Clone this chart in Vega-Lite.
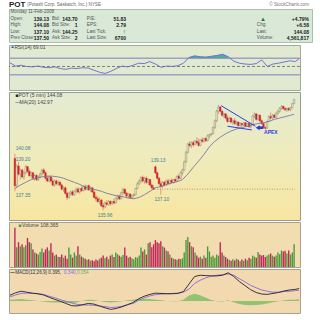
{
"$schema":"https://vega.github.io/schema/vega-lite/v6.json",
"padding":{"left":7,"top":0,"right":0,"bottom":0},
"background":"white",
"spacing":0,
"config":{"font":"Liberation Sans","text":{"font":"Liberation Sans"},"view":{"stroke":"#9c9c8c"}},
"datasets":{
"bars":[
{"i":0,"o":139.75,"h":140.08,"l":137.35,"c":137.75,"v":190000},
{"i":1,"o":137.8,"h":139.3,"l":137.6,"c":139.2,"v":95000},
{"i":2,"o":139.2,"h":139.5,"l":138.5,"c":138.6,"v":120000},
{"i":3,"o":138.6,"h":139.0,"l":138.2,"c":138.9,"v":100000},
{"i":4,"o":138.9,"h":139.0,"l":138.3,"c":138.4,"v":110000},
{"i":5,"o":138.4,"h":138.8,"l":138.2,"c":138.7,"v":95000},
{"i":6,"o":138.7,"h":139.25,"l":138.6,"c":139.15,"v":105000},
{"i":7,"o":139.15,"h":139.2,"l":138.7,"c":138.8,"v":140000},
{"i":8,"o":138.8,"h":139.0,"l":138.4,"c":138.5,"v":120000},
{"i":9,"o":138.5,"h":138.8,"l":138.3,"c":138.7,"v":115000},
{"i":10,"o":138.7,"h":138.75,"l":138.2,"c":138.3,"v":85000},
{"i":11,"o":138.3,"h":138.6,"l":138.1,"c":138.5,"v":70000},
{"i":12,"o":138.5,"h":138.6,"l":138.1,"c":138.2,"v":65000},
{"i":13,"o":138.2,"h":138.5,"l":138.1,"c":138.4,"v":60000},
{"i":14,"o":138.4,"h":138.7,"l":138.3,"c":138.6,"v":72000},
{"i":15,"o":138.6,"h":139.0,"l":138.5,"c":138.9,"v":90000},
{"i":16,"o":138.9,"h":139.05,"l":138.6,"c":138.7,"v":70000},
{"i":17,"o":138.7,"h":138.8,"l":138.2,"c":138.3,"v":85000},
{"i":18,"o":138.3,"h":138.5,"l":138.0,"c":138.1,"v":95000},
{"i":19,"o":138.1,"h":138.5,"l":138.0,"c":138.4,"v":80000},
{"i":20,"o":138.4,"h":138.5,"l":138.0,"c":138.1,"v":115000},
{"i":21,"o":138.1,"h":138.3,"l":137.7,"c":137.8,"v":70000},
{"i":22,"o":137.8,"h":138.2,"l":137.7,"c":138.1,"v":55000},
{"i":23,"o":138.1,"h":138.2,"l":137.8,"c":137.9,"v":60000},
{"i":24,"o":137.9,"h":138.15,"l":137.75,"c":138.0,"v":50000},
{"i":25,"o":138.0,"h":138.1,"l":137.7,"c":137.8,"v":48000},
{"i":26,"o":137.8,"h":137.9,"l":137.4,"c":137.5,"v":60000},
{"i":27,"o":137.5,"h":137.7,"l":137.3,"c":137.6,"v":45000},
{"i":28,"o":137.6,"h":137.7,"l":137.1,"c":137.2,"v":55000},
{"i":29,"o":137.2,"h":137.3,"l":136.7,"c":136.9,"v":40000},
{"i":30,"o":136.9,"h":137.3,"l":136.8,"c":137.2,"v":94000},
{"i":31,"o":137.2,"h":137.4,"l":137.0,"c":137.3,"v":60000},
{"i":32,"o":137.3,"h":137.45,"l":137.0,"c":137.1,"v":45000},
{"i":33,"o":137.1,"h":137.4,"l":137.0,"c":137.35,"v":70000},
{"i":34,"o":137.35,"h":137.6,"l":137.2,"c":137.5,"v":55000},
{"i":35,"o":137.5,"h":137.65,"l":137.2,"c":137.3,"v":100000},
{"i":36,"o":137.3,"h":137.6,"l":137.15,"c":137.55,"v":60000},
{"i":37,"o":137.55,"h":137.7,"l":137.3,"c":137.4,"v":50000},
{"i":38,"o":137.4,"h":137.8,"l":137.35,"c":137.7,"v":45000},
{"i":39,"o":137.7,"h":137.85,"l":137.4,"c":137.5,"v":40000},
{"i":40,"o":137.5,"h":137.8,"l":137.4,"c":137.75,"v":35000},
{"i":41,"o":137.75,"h":137.85,"l":137.4,"c":137.45,"v":38000},
{"i":42,"o":137.45,"h":137.7,"l":137.3,"c":137.6,"v":30000},
{"i":43,"o":137.6,"h":137.65,"l":137.2,"c":137.3,"v":33000},
{"i":44,"o":137.3,"h":137.4,"l":136.85,"c":136.9,"v":28000},
{"i":45,"o":136.9,"h":137.1,"l":136.6,"c":136.8,"v":36000},
{"i":46,"o":136.8,"h":137.0,"l":136.5,"c":136.6,"v":32000},
{"i":47,"o":136.6,"h":136.9,"l":136.4,"c":136.7,"v":40000},
{"i":48,"o":136.7,"h":136.8,"l":136.2,"c":136.3,"v":45000},
{"i":49,"o":136.3,"h":136.5,"l":135.96,"c":136.2,"v":55000},
{"i":50,"o":136.2,"h":136.6,"l":136.1,"c":136.5,"v":42000},
{"i":51,"o":136.5,"h":136.7,"l":136.3,"c":136.4,"v":50000},
{"i":52,"o":136.4,"h":136.7,"l":136.3,"c":136.6,"v":38000},
{"i":53,"o":136.6,"h":136.7,"l":136.3,"c":136.45,"v":55000},
{"i":54,"o":136.45,"h":136.65,"l":136.35,"c":136.6,"v":60000},
{"i":55,"o":136.6,"h":136.8,"l":136.4,"c":136.5,"v":48000},
{"i":56,"o":136.5,"h":136.9,"l":136.45,"c":136.85,"v":70000},
{"i":57,"o":136.85,"h":137.1,"l":136.7,"c":137.0,"v":62000},
{"i":58,"o":137.0,"h":137.1,"l":136.7,"c":136.8,"v":55000},
{"i":59,"o":136.8,"h":137.3,"l":136.75,"c":137.25,"v":50000},
{"i":60,"o":137.25,"h":137.6,"l":137.1,"c":137.5,"v":58000},
{"i":61,"o":137.5,"h":137.55,"l":137.1,"c":137.2,"v":94000},
{"i":62,"o":137.2,"h":137.3,"l":136.9,"c":137.0,"v":55000},
{"i":63,"o":137.0,"h":137.2,"l":136.85,"c":137.15,"v":45000},
{"i":64,"o":137.15,"h":137.2,"l":136.8,"c":136.9,"v":50000},
{"i":65,"o":136.9,"h":137.1,"l":136.8,"c":137.05,"v":42000},
{"i":66,"o":137.05,"h":137.2,"l":136.9,"c":137.1,"v":38000},
{"i":67,"o":137.1,"h":137.6,"l":137.05,"c":137.55,"v":48000},
{"i":68,"o":137.55,"h":138.0,"l":137.5,"c":137.9,"v":45000},
{"i":69,"o":137.9,"h":138.2,"l":137.8,"c":138.1,"v":55000},
{"i":70,"o":138.1,"h":138.45,"l":137.95,"c":138.35,"v":94000},
{"i":71,"o":138.35,"h":138.5,"l":138.0,"c":138.1,"v":75000},
{"i":72,"o":138.1,"h":138.4,"l":137.9,"c":138.3,"v":85000},
{"i":73,"o":138.3,"h":138.45,"l":137.9,"c":138.0,"v":60000},
{"i":74,"o":138.0,"h":138.3,"l":137.8,"c":138.2,"v":115000},
{"i":75,"o":138.2,"h":138.25,"l":137.7,"c":137.8,"v":120000},
{"i":76,"o":137.8,"h":137.9,"l":137.5,"c":137.6,"v":95000},
{"i":77,"o":137.6,"h":137.8,"l":137.45,"c":137.5,"v":110000},
{"i":78,"o":139.13,"h":139.25,"l":138.6,"c":138.7,"v":130000},
{"i":79,"o":138.7,"h":138.8,"l":138.2,"c":138.3,"v":120000},
{"i":80,"o":138.3,"h":138.4,"l":137.8,"c":137.9,"v":115000},
{"i":81,"o":137.9,"h":138.1,"l":137.1,"c":137.7,"v":125000},
{"i":82,"o":137.7,"h":138.1,"l":137.6,"c":138.0,"v":100000},
{"i":83,"o":138.0,"h":138.1,"l":137.7,"c":137.8,"v":94000},
{"i":84,"o":137.8,"h":138.2,"l":137.75,"c":138.1,"v":80000},
{"i":85,"o":138.1,"h":138.25,"l":137.8,"c":137.9,"v":75000},
{"i":86,"o":137.9,"h":138.2,"l":137.85,"c":138.15,"v":60000},
{"i":87,"o":138.15,"h":138.3,"l":137.95,"c":138.0,"v":45000},
{"i":88,"o":138.0,"h":138.25,"l":137.9,"c":138.2,"v":40000},
{"i":89,"o":138.2,"h":138.3,"l":138.0,"c":138.1,"v":38000},
{"i":90,"o":138.1,"h":138.5,"l":138.05,"c":138.45,"v":35000},
{"i":91,"o":138.45,"h":138.6,"l":138.2,"c":138.3,"v":40000},
{"i":92,"o":138.3,"h":138.8,"l":138.25,"c":138.7,"v":38000},
{"i":93,"o":138.7,"h":139.0,"l":138.5,"c":138.9,"v":42000},
{"i":94,"o":138.9,"h":139.6,"l":138.85,"c":139.5,"v":70000},
{"i":95,"o":139.5,"h":140.3,"l":139.4,"c":140.2,"v":130000},
{"i":96,"o":140.2,"h":140.9,"l":140.1,"c":140.8,"v":145000},
{"i":97,"o":140.8,"h":141.0,"l":140.55,"c":140.7,"v":120000},
{"i":98,"o":140.7,"h":141.0,"l":140.5,"c":140.9,"v":100000},
{"i":99,"o":140.9,"h":141.05,"l":140.6,"c":140.75,"v":95000},
{"i":100,"o":140.75,"h":141.1,"l":140.7,"c":141.0,"v":70000},
{"i":101,"o":141.0,"h":141.3,"l":140.8,"c":140.9,"v":55000},
{"i":102,"o":140.9,"h":141.2,"l":140.6,"c":140.7,"v":45000},
{"i":103,"o":140.7,"h":141.15,"l":140.65,"c":141.1,"v":50000},
{"i":104,"o":141.1,"h":141.3,"l":140.9,"c":141.0,"v":40000},
{"i":105,"o":141.0,"h":141.25,"l":140.9,"c":141.2,"v":55000},
{"i":106,"o":141.2,"h":141.3,"l":140.95,"c":141.05,"v":45000},
{"i":107,"o":141.05,"h":141.5,"l":141.0,"c":141.4,"v":100000},
{"i":108,"o":141.4,"h":141.55,"l":141.2,"c":141.5,"v":75000},
{"i":109,"o":141.5,"h":141.6,"l":141.35,"c":141.55,"v":50000},
{"i":110,"o":141.55,"h":142.1,"l":141.5,"c":142.0,"v":55000},
{"i":111,"o":142.0,"h":142.6,"l":141.9,"c":142.5,"v":45000},
{"i":112,"o":142.5,"h":143.3,"l":142.4,"c":143.2,"v":60000},
{"i":113,"o":143.2,"h":143.66,"l":143.0,"c":143.5,"v":55000},
{"i":114,"o":143.5,"h":143.6,"l":143.1,"c":143.2,"v":120000},
{"i":115,"o":143.2,"h":143.3,"l":142.8,"c":142.9,"v":70000},
{"i":116,"o":142.9,"h":143.1,"l":142.7,"c":143.0,"v":55000},
{"i":117,"o":143.0,"h":143.05,"l":142.6,"c":142.7,"v":48000},
{"i":118,"o":142.7,"h":142.9,"l":142.35,"c":142.45,"v":40000},
{"i":119,"o":142.45,"h":142.8,"l":142.4,"c":142.7,"v":35000},
{"i":120,"o":142.7,"h":142.75,"l":142.3,"c":142.4,"v":30000},
{"i":121,"o":142.4,"h":142.6,"l":142.2,"c":142.5,"v":38000},
{"i":122,"o":142.5,"h":142.7,"l":142.2,"c":142.3,"v":32000},
{"i":123,"o":142.3,"h":142.5,"l":142.15,"c":142.4,"v":40000},
{"i":124,"o":142.4,"h":142.45,"l":142.05,"c":142.15,"v":35000},
{"i":125,"o":142.15,"h":142.4,"l":142.05,"c":142.3,"v":28000},
{"i":126,"o":142.3,"h":142.35,"l":142.05,"c":142.2,"v":36000},
{"i":127,"o":142.2,"h":142.4,"l":142.1,"c":142.35,"v":30000},
{"i":128,"o":142.35,"h":142.4,"l":142.05,"c":142.1,"v":40000},
{"i":129,"o":142.1,"h":142.35,"l":142.05,"c":142.3,"v":33000},
{"i":130,"o":142.3,"h":142.4,"l":142.0,"c":142.05,"v":45000},
{"i":131,"o":142.05,"h":142.3,"l":141.95,"c":142.25,"v":40000},
{"i":132,"o":142.25,"h":142.9,"l":142.2,"c":142.85,"v":55000},
{"i":133,"o":142.85,"h":143.1,"l":142.7,"c":143.0,"v":50000},
{"i":134,"o":143.0,"h":143.05,"l":142.5,"c":142.6,"v":45000},
{"i":135,"o":142.6,"h":142.95,"l":142.5,"c":142.9,"v":72000},
{"i":136,"o":142.9,"h":142.95,"l":142.4,"c":142.5,"v":60000},
{"i":137,"o":142.5,"h":142.6,"l":142.2,"c":142.3,"v":55000},
{"i":138,"o":142.3,"h":142.4,"l":141.9,"c":142.0,"v":58000},
{"i":139,"o":142.0,"h":142.1,"l":141.85,"c":141.95,"v":48000},
{"i":140,"o":141.95,"h":142.5,"l":141.9,"c":142.45,"v":55000},
{"i":141,"o":142.45,"h":142.9,"l":142.4,"c":142.8,"v":60000},
{"i":142,"o":142.8,"h":143.1,"l":142.6,"c":142.7,"v":65000},
{"i":143,"o":142.7,"h":143.0,"l":142.6,"c":142.9,"v":55000},
{"i":144,"o":142.9,"h":143.0,"l":142.7,"c":142.75,"v":50000},
{"i":145,"o":142.75,"h":143.1,"l":142.7,"c":143.05,"v":55000},
{"i":146,"o":143.05,"h":143.3,"l":142.95,"c":143.2,"v":70000},
{"i":147,"o":143.2,"h":143.5,"l":143.1,"c":143.4,"v":62000},
{"i":148,"o":143.4,"h":143.65,"l":143.3,"c":143.55,"v":80000},
{"i":149,"o":143.55,"h":143.6,"l":143.3,"c":143.4,"v":75000},
{"i":150,"o":143.4,"h":143.5,"l":143.2,"c":143.3,"v":78000},
{"i":151,"o":143.3,"h":143.45,"l":143.15,"c":143.4,"v":65000},
{"i":152,"o":143.4,"h":143.5,"l":143.2,"c":143.3,"v":80000},
{"i":153,"o":143.3,"h":143.5,"l":143.2,"c":143.45,"v":60000},
{"i":154,"o":143.45,"h":143.8,"l":143.4,"c":143.75,"v":70000},
{"i":155,"o":143.75,"h":144.08,"l":143.7,"c":144.08,"v":110000}
],
"ind":[
{"i":0,"ma":137.55,"rsi":59,"m":0.18,"s":0.13,"hg":0.04},
{"i":3,"ma":137.8,"rsi":51,"m":0.26,"s":0.19,"hg":0.05},
{"i":6,"ma":138.0,"rsi":53,"m":0.31,"s":0.24,"hg":0.06},
{"i":9,"ma":138.2,"rsi":50,"m":0.28,"s":0.25,"hg":0.04},
{"i":12,"ma":138.3,"rsi":49,"m":0.25,"s":0.24,"hg":0.02},
{"i":15,"ma":138.4,"rsi":51,"m":0.23,"s":0.23,"hg":0.0},
{"i":18,"ma":138.45,"rsi":48,"m":0.19,"s":0.21,"hg":-0.02},
{"i":21,"ma":138.45,"rsi":47,"m":0.12,"s":0.15,"hg":-0.04},
{"i":24,"ma":138.4,"rsi":49,"m":0.05,"s":0.1,"hg":-0.05},
{"i":27,"ma":138.3,"rsi":45,"m":-0.01,"s":0.04,"hg":-0.05},
{"i":30,"ma":138.15,"rsi":43,"m":-0.08,"s":-0.01,"hg":-0.06},
{"i":33,"ma":138.0,"rsi":46,"m":-0.15,"s":-0.06,"hg":-0.07},
{"i":36,"ma":137.85,"rsi":45,"m":-0.16,"s":-0.11,"hg":-0.04},
{"i":39,"ma":137.65,"rsi":47,"m":-0.12,"s":-0.13,"hg":0.01},
{"i":42,"ma":137.55,"rsi":46,"m":-0.08,"s":-0.13,"hg":0.04},
{"i":45,"ma":137.45,"rsi":41,"m":-0.1,"s":-0.14,"hg":0.03},
{"i":48,"ma":137.35,"rsi":36,"m":-0.16,"s":-0.16,"hg":0.0},
{"i":51,"ma":137.2,"rsi":33,"m":-0.22,"s":-0.18,"hg":-0.03},
{"i":54,"ma":137.1,"rsi":38,"m":-0.27,"s":-0.21,"hg":-0.05},
{"i":57,"ma":137.0,"rsi":45,"m":-0.24,"s":-0.2,"hg":-0.03},
{"i":60,"ma":136.95,"rsi":51,"m":-0.19,"s":-0.17,"hg":-0.01},
{"i":63,"ma":136.85,"rsi":49,"m":-0.12,"s":-0.12,"hg":0.02},
{"i":66,"ma":136.8,"rsi":53,"m":-0.05,"s":-0.08,"hg":0.04},
{"i":69,"ma":136.9,"rsi":58,"m":0.07,"s":0.02,"hg":0.06},
{"i":72,"ma":137.1,"rsi":57,"m":0.15,"s":0.1,"hg":0.07},
{"i":75,"ma":137.35,"rsi":62,"m":0.21,"s":0.16,"hg":0.06},
{"i":78,"ma":137.6,"rsi":56,"m":0.25,"s":0.2,"hg":0.04},
{"i":81,"ma":137.7,"rsi":48,"m":0.24,"s":0.22,"hg":0.02},
{"i":84,"ma":137.85,"rsi":51,"m":0.23,"s":0.23,"hg":0.0},
{"i":87,"ma":137.95,"rsi":50,"m":0.23,"s":0.24,"hg":-0.01},
{"i":90,"ma":138.05,"rsi":52,"m":0.24,"s":0.25,"hg":-0.01},
{"i":93,"ma":138.2,"rsi":58,"m":0.3,"s":0.28,"hg":0.04},
{"i":96,"ma":138.6,"rsi":72,"m":0.54,"s":0.38,"hg":0.17},
{"i":99,"ma":139.1,"rsi":76,"m":0.78,"s":0.56,"hg":0.23},
{"i":102,"ma":139.55,"rsi":74,"m":0.82,"s":0.66,"hg":0.18},
{"i":105,"ma":140.05,"rsi":73,"m":0.81,"s":0.74,"hg":0.1},
{"i":108,"ma":140.6,"rsi":75,"m":0.8,"s":0.79,"hg":0.03},
{"i":111,"ma":141.0,"rsi":77,"m":0.8,"s":0.82,"hg":-0.01},
{"i":114,"ma":141.3,"rsi":80,"m":0.82,"s":0.84,"hg":-0.02},
{"i":117,"ma":141.55,"rsi":74,"m":0.9,"s":0.86,"hg":0.02},
{"i":120,"ma":141.75,"rsi":63,"m":0.78,"s":0.82,"hg":-0.04},
{"i":123,"ma":141.9,"rsi":58,"m":0.62,"s":0.71,"hg":-0.1},
{"i":126,"ma":142.0,"rsi":56,"m":0.49,"s":0.61,"hg":-0.13},
{"i":129,"ma":142.1,"rsi":55,"m":0.36,"s":0.5,"hg":-0.14},
{"i":132,"ma":142.2,"rsi":57,"m":0.27,"s":0.42,"hg":-0.13},
{"i":135,"ma":142.3,"rsi":66,"m":0.22,"s":0.35,"hg":-0.11},
{"i":138,"ma":142.35,"rsi":50,"m":0.21,"s":0.31,"hg":-0.08},
{"i":141,"ma":142.45,"rsi":56,"m":0.24,"s":0.28,"hg":-0.04},
{"i":144,"ma":142.6,"rsi":58,"m":0.27,"s":0.28,"hg":-0.01},
{"i":147,"ma":142.7,"rsi":61,"m":0.32,"s":0.3,"hg":0.02},
{"i":150,"ma":142.8,"rsi":64,"m":0.35,"s":0.31,"hg":0.04},
{"i":153,"ma":142.9,"rsi":62,"m":0.37,"s":0.33,"hg":0.04},
{"i":155,"ma":142.97,"rsi":69,"m":0.395,"s":0.34,"hg":0.054}
],
"hdr":[
{"row":-1,"col":"T","t":"POT"},
{"row":-1,"col":"S","t":"(Potash Corp. Saskatch, Inc.) NYSE"},
{"row":-1,"col":"C","t":"© StockCharts.com"},
{"row":0,"col":"L1","t":"Monday 11-Feb-2008"},
{"row":1,"col":"L1","t":"Open:"},{"row":1,"col":"V1","t":"139.13"},{"row":1,"col":"L2","t":"Bid:"},{"row":1,"col":"V2","t":"143.70"},{"row":1,"col":"L3","t":"P/E:"},{"row":1,"col":"V3","t":"51.83"},{"row":1,"col":"G","t":"▲"},{"row":1,"col":"V4","t":"+4.79%"},
{"row":2,"col":"L1","t":"High:"},{"row":2,"col":"V1","t":"144.08"},{"row":2,"col":"L2","t":"Bid Size:"},{"row":2,"col":"V2","t":"1"},{"row":2,"col":"L3","t":"EPS:"},{"row":2,"col":"V3","t":"2.79"},{"row":2,"col":"L4","t":"Chg:"},{"row":2,"col":"V4","t":"+6.58"},
{"row":3,"col":"L1","t":"Low:"},{"row":3,"col":"V1","t":"137.10"},{"row":3,"col":"L2","t":"Ask:"},{"row":3,"col":"V2","t":"144.25"},{"row":3,"col":"L3","t":"Last Tick:"},{"row":3,"col":"A","t":"↑"},{"row":3,"col":"L4","t":"Last:"},{"row":3,"col":"V4","t":"144.08"},
{"row":4,"col":"L1","t":"Prev Close:"},{"row":4,"col":"V1","t":"137.50"},{"row":4,"col":"L2","t":"Ask Size:"},{"row":4,"col":"V2","t":"2"},{"row":4,"col":"L3","t":"Last Size:"},{"row":4,"col":"V3","t":"6700"},{"row":4,"col":"L4","t":"Volume:"},{"row":4,"col":"V4","t":"4,561,817"}
],
"ann":[
{"i":4.5,"p":140.47,"t":"140.08"},
{"i":4.5,"p":139.65,"t":"139.20"},
{"i":4.5,"p":136.99,"t":"137.35"},
{"i":50,"p":135.54,"t":"135.96"},
{"i":79.5,"p":139.53,"t":"139.13"},
{"i":81.5,"p":136.72,"t":"137.10"}
],
"tl":[
{"a":114.5,"p":143.6,"b":133.5,"q":142.1},
{"a":118,"p":142.1,"b":131.5,"q":141.83}
]
},
"vconcat":[
{
"width":303,"height":33,
"view":{"fill":"#d9e8d7","stroke":"#a6c2a6"},
"data":{"name":"hdr"},
"encoding":{"y":{"field":"row","type":"quantitative","scale":{"domain":[-1,4],"range":[-3.6,29.4]},"axis":null},"text":{"field":"t"}},
"layer":[
{"transform":[{"filter":"datum.col=='T'"}],"mark":{"type":"text","align":"left","fontSize":8,"fontWeight":"bold","color":"#222"},"encoding":{"x":{"datum":0,"scale":{"domain":[0,100]},"axis":null}}},
{"transform":[{"filter":"datum.col=='S'"}],"mark":{"type":"text","align":"left","fontSize":4.6,"color":"#666"},"encoding":{"x":{"datum":6,"scale":{"domain":[0,100]},"axis":null}}},
{"transform":[{"filter":"datum.col=='C'"}],"mark":{"type":"text","align":"right","fontSize":4.6,"color":"#777"},"encoding":{"x":{"datum":99,"scale":{"domain":[0,100]},"axis":null}}},
{"transform":[{"filter":"datum.col=='L1'"}],"mark":{"type":"text","align":"left","fontSize":4.6,"color":"#555"},"encoding":{"x":{"datum":0.5,"scale":{"domain":[0,100]},"axis":null}}},
{"transform":[{"filter":"datum.col=='L2'"}],"mark":{"type":"text","align":"left","fontSize":4.6,"color":"#555"},"encoding":{"x":{"datum":14.2,"scale":{"domain":[0,100]},"axis":null}}},
{"transform":[{"filter":"datum.col=='L3'"}],"mark":{"type":"text","align":"left","fontSize":4.6,"color":"#555"},"encoding":{"x":{"datum":25.7,"scale":{"domain":[0,100]},"axis":null}}},
{"transform":[{"filter":"datum.col=='L4'"}],"mark":{"type":"text","align":"left","fontSize":4.6,"color":"#555"},"encoding":{"x":{"datum":81.8,"scale":{"domain":[0,100]},"axis":null}}},
{"transform":[{"filter":"datum.col=='V1'"}],"mark":{"type":"text","align":"right","fontSize":5,"fontWeight":"bold","color":"#222"},"encoding":{"x":{"datum":13.2,"scale":{"domain":[0,100]},"axis":null}}},
{"transform":[{"filter":"datum.col=='V2'"}],"mark":{"type":"text","align":"right","fontSize":5,"fontWeight":"bold","color":"#222"},"encoding":{"x":{"datum":22.6,"scale":{"domain":[0,100]},"axis":null}}},
{"transform":[{"filter":"datum.col=='V3'"}],"mark":{"type":"text","align":"right","fontSize":5,"fontWeight":"bold","color":"#222"},"encoding":{"x":{"datum":38.6,"scale":{"domain":[0,100]},"axis":null}}},
{"transform":[{"filter":"datum.col=='V4'"}],"mark":{"type":"text","align":"right","fontSize":5,"fontWeight":"bold","color":"#222"},"encoding":{"x":{"datum":99,"scale":{"domain":[0,100]},"axis":null}}},
{"transform":[{"filter":"datum.col=='G'"}],"mark":{"type":"text","align":"left","fontSize":6,"color":"#2a7a2a"},"encoding":{"x":{"datum":82.8,"scale":{"domain":[0,100]},"axis":null}}},
{"transform":[{"filter":"datum.col=='A'"}],"mark":{"type":"text","align":"right","fontSize":6.5,"fontWeight":"bold","color":"#1f8a1f"},"encoding":{"x":{"datum":38.6,"scale":{"domain":[0,100]},"axis":null}}}
]
},
{
"width":291,"height":45,
"view":{"fill":"#e1e9d0","stroke":"#a2a89a"},
"layer":[
{"data":{"values":[{}]},"mark":{"type":"rule","color":"#9da2c6","strokeWidth":1.5},"encoding":{"y":{"datum":70,"scale":{"domain":[-7.5,102.5],"nice":false},"axis":null}}},
{"data":{"values":[{}]},"mark":{"type":"rule","color":"#9da2c6","strokeWidth":1.5},"encoding":{"y":{"datum":30,"scale":{"domain":[-7.5,102.5],"nice":false},"axis":null}}},
{"data":{"values":[{}]},"mark":{"type":"rule","color":"#555","strokeWidth":0.7,"strokeDash":[3,2]},"encoding":{"y":{"datum":50,"scale":{"domain":[-7.5,102.5],"nice":false},"axis":null}}},
{"data":{"name":"ind"},"transform":[{"filter":"datum.rsi>=70"}],"mark":{"type":"area","color":"#4ea3a6","opacity":0.95},"encoding":{"x":{"field":"i","type":"quantitative","scale":{"domain":[-0.5,155.5],"nice":false,"zero":false},"axis":null},"y":{"field":"rsi","type":"quantitative","scale":{"domain":[-7.5,102.5],"nice":false},"axis":null},"y2":{"datum":70}}},
{"data":{"name":"ind"},"mark":{"type":"line","color":"#6767cf","strokeWidth":0.9},"encoding":{
"x":{"field":"i","type":"quantitative","scale":{"domain":[-0.5,155.5],"nice":false,"zero":false},"axis":{"values":[-0.5,5.5,17.5,29.5,41.5,53.5,65.5,77.5,95.5,107.5,119.5,131.5,143.5],"labels":false,"ticks":false,"domain":false,"grid":true,"gridColor":"#5a6a50","gridOpacity":0.18,"gridWidth":0.6,"title":null}},
"y":{"field":"rsi","type":"quantitative","scale":{"domain":[-7.5,102.5],"nice":false},"axis":{"orient":"right","values":[10,30,50,70,90],"labelFontSize":5.5,"labelColor":"#222","tickSize":2,"tickColor":"#888","labelPadding":1,"domain":false,"grid":true,"gridColor":"#5a6a50","gridOpacity":0.12,"title":null}}}},
{"data":{"values":[{}]},"mark":{"type":"text","align":"left","fontSize":4.5,"color":"#2f55c8"},"encoding":{"x":{"datum":0.2,"scale":{"domain":[-0.5,155.5],"nice":false,"zero":false},"axis":null},"y":{"datum":96.5,"scale":{"domain":[-7.5,102.5],"nice":false},"axis":null},"text":{"value":"▲"}}},
{"data":{"values":[{}]},"mark":{"type":"text","align":"left","fontSize":5,"color":"#444"},"encoding":{"x":{"datum":2.4,"scale":{"domain":[-0.5,155.5],"nice":false,"zero":false},"axis":null},"y":{"datum":96.5,"scale":{"domain":[-7.5,102.5],"nice":false},"axis":null},"text":{"value":"RSI(14) 69.01"}}}
]
},
{
"width":291,"height":128,
"view":{"fill":{"gradient":"linear","x1":0,"y1":0,"x2":0,"y2":1,"stops":[{"offset":0,"color":"#e3ebd3"},{"offset":0.5,"color":"#efebbc"},{"offset":1,"color":"#f7e6a0"}]},"stroke":"#9c9c8c"},
"layer":[
{"data":{"values":[{}]},"mark":{"type":"rule","color":"#9c8c60","strokeDash":[1,1.5],"strokeWidth":0.8},"encoding":{"x":{"datum":77.5,"scale":{"domain":[-0.5,155.5],"nice":false,"zero":false},"axis":null},"x2":{"datum":155.5},"y":{"datum":137.5,"scale":{"domain":[135.25,144.6],"nice":false,"zero":false},"axis":null}}},
{"data":{"name":"bars"},"mark":{"type":"rule","strokeWidth":0.6},"encoding":{
"x":{"field":"i","type":"quantitative","scale":{"domain":[-0.5,155.5],"nice":false,"zero":false},"axis":{"values":[-0.5,5.5,17.5,29.5,41.5,53.5,65.5,77.5,95.5,107.5,119.5,131.5,143.5],"labelExpr":"(datum.value+0.5)%78==0 ? (datum.value<1 ? '8Feb' : '11Feb') : ((8.5+((datum.value+0.5)%78)/12)%12+1)+':00'","labelAlign":{"condition":{"test":"datum.value==77.5","value":"center"},"value":"left"},"labelFontWeight":{"condition":{"test":"(datum.value+0.5)%78==0","value":"bold"},"value":"normal"},"labelFontSize":5.5,"labelColor":"#222","labelPadding":1,"ticks":false,"domain":false,"grid":true,"gridColor":"#6b6b50","gridOpacity":0.18,"gridWidth":0.6,"title":null}},
"y":{"field":"l","type":"quantitative","scale":{"domain":[135.25,144.6],"nice":false,"zero":false},"axis":{"orient":"right","values":[135.5,136,136.5,137,137.5,138,138.5,139,139.5,140,140.5,141,141.5,142,142.5,143,143.5,144,144.5],"format":".1f","labelFontSize":5.5,"labelColor":"#222","tickSize":2,"tickColor":"#888","labelPadding":1,"domain":false,"grid":true,"gridColor":"#6b6b50","gridOpacity":0.1,"title":null}},
"y2":{"field":"h"},
"color":{"condition":{"test":"datum.c<datum.o","value":"#d86060"},"value":"#8e8b6e"}}},
{"data":{"name":"bars"},"mark":{"type":"bar","size":1.5,"strokeWidth":0.45},"encoding":{
"x":{"field":"i","type":"quantitative","scale":{"domain":[-0.5,155.5],"nice":false,"zero":false},"axis":null},
"y":{"field":"o","type":"quantitative","scale":{"domain":[135.25,144.6],"nice":false,"zero":false},"axis":null},
"y2":{"field":"c"},
"fill":{"condition":{"test":"datum.c<datum.o","value":"#dc1f26"},"value":"#f4efd2"},
"stroke":{"condition":{"test":"datum.c<datum.o","value":"#c81c22"},"value":"#7f7d60"}}},
{"data":{"name":"ind"},"mark":{"type":"line","color":"#7878a6","strokeWidth":0.9},"encoding":{
"x":{"field":"i","type":"quantitative","scale":{"domain":[-0.5,155.5],"nice":false,"zero":false},"axis":null},
"y":{"field":"ma","type":"quantitative","scale":{"domain":[135.25,144.6],"nice":false,"zero":false},"axis":null}}},
{"data":{"name":"tl"},"mark":{"type":"rule","color":"#2a40e6","strokeWidth":1}, "encoding":{
"x":{"field":"a","type":"quantitative","scale":{"domain":[-0.5,155.5],"nice":false,"zero":false},"axis":null},"x2":{"field":"b"},
"y":{"field":"p","type":"quantitative","scale":{"domain":[135.25,144.6],"nice":false,"zero":false},"axis":null},"y2":{"field":"q"}}},
{"data":{"values":[{}]},"mark":{"type":"rule","color":"#1f3de0","strokeWidth":2.6},"encoding":{"x":{"datum":135.3,"scale":{"domain":[-0.5,155.5],"nice":false,"zero":false},"axis":null},"x2":{"datum":137.8},"y":{"datum":141.99,"scale":{"domain":[135.25,144.6],"nice":false,"zero":false},"axis":null}}},
{"data":{"values":[{}]},"mark":{"type":"point","shape":"triangle-left","filled":true,"size":24,"color":"#1f3de0","opacity":1},"encoding":{"x":{"datum":134.8,"scale":{"domain":[-0.5,155.5],"nice":false,"zero":false},"axis":null},"y":{"datum":141.99,"scale":{"domain":[135.25,144.6],"nice":false,"zero":false},"axis":null}}},
{"data":{"values":[{}]},"mark":{"type":"text","align":"left","fontSize":5,"fontWeight":"bold","color":"#2a3fe0"},"encoding":{"x":{"datum":138.3,"scale":{"domain":[-0.5,155.5],"nice":false,"zero":false},"axis":null},"y":{"datum":141.65,"scale":{"domain":[135.25,144.6],"nice":false,"zero":false},"axis":null},"text":{"value":"APEX"}}},
{"data":{"name":"ann"},"mark":{"type":"text","align":"center","fontSize":4.8,"color":"#3f8090"},"encoding":{
"x":{"field":"i","type":"quantitative","scale":{"domain":[-0.5,155.5],"nice":false,"zero":false},"axis":null},
"y":{"field":"p","type":"quantitative","scale":{"domain":[135.25,144.6],"nice":false,"zero":false},"axis":null},
"text":{"field":"t"}}},
{"data":{"values":[{}]},"mark":{"type":"text","align":"left","fontSize":5,"color":"#222"},"encoding":{"x":{"datum":0.2,"scale":{"domain":[-0.5,155.5],"nice":false,"zero":false},"axis":null},"y":{"datum":144.38,"scale":{"domain":[135.25,144.6],"nice":false,"zero":false},"axis":null},"text":{"value":"■"}}},
{"data":{"values":[{}]},"mark":{"type":"text","align":"left","fontSize":5,"color":"#444"},"encoding":{"x":{"datum":2.0,"scale":{"domain":[-0.5,155.5],"nice":false,"zero":false},"axis":null},"y":{"datum":144.38,"scale":{"domain":[135.25,144.6],"nice":false,"zero":false},"axis":null},"text":{"value":"POT (5 min) 144.08"}}},
{"data":{"values":[{}]},"mark":{"type":"text","align":"left","fontSize":5,"fontWeight":"bold","color":"#7070a0"},"encoding":{"x":{"datum":0.2,"scale":{"domain":[-0.5,155.5],"nice":false,"zero":false},"axis":null},"y":{"datum":143.88,"scale":{"domain":[135.25,144.6],"nice":false,"zero":false},"axis":null},"text":{"value":"—"}}},
{"data":{"values":[{}]},"mark":{"type":"text","align":"left","fontSize":5,"color":"#444"},"encoding":{"x":{"datum":2.6,"scale":{"domain":[-0.5,155.5],"nice":false,"zero":false},"axis":null},"y":{"datum":143.88,"scale":{"domain":[135.25,144.6],"nice":false,"zero":false},"axis":null},"text":{"value":"MA(20) 142.97"}}}
]
},
{
"width":291,"height":45,
"view":{"fill":"#f2ddb0","stroke":"#a8a090"},
"layer":[
{"data":{"name":"bars"},"mark":{"type":"bar","size":1.4},"encoding":{
"x":{"field":"i","type":"quantitative","scale":{"domain":[-0.5,155.5],"nice":false,"zero":false},"axis":{"values":[-0.5,5.5,17.5,29.5,41.5,53.5,65.5,77.5,95.5,107.5,119.5,131.5,143.5],"labels":false,"ticks":false,"domain":false,"grid":true,"gridColor":"#6b5b40","gridOpacity":0.15,"gridWidth":0.6,"title":null}},
"y":{"field":"v","type":"quantitative","scale":{"domain":[0,217500],"nice":false},"axis":{"orient":"right","values":[50000,100000,150000,200000],"labelExpr":"(datum.value/1000)+'K'","labelFontSize":5.5,"labelColor":"#222","tickSize":2,"tickColor":"#888","labelPadding":1,"domain":false,"grid":true,"gridColor":"#6b5b40","gridOpacity":0.12,"title":null}},
"color":{"condition":{"test":"datum.c<datum.o","value":"#c2295a"},"value":"#4d9a3b"}}},
{"data":{"values":[{}]},"mark":{"type":"text","align":"left","fontSize":5,"color":"#4d9a3b"},"encoding":{"x":{"datum":1.8,"scale":{"domain":[-0.5,155.5],"nice":false,"zero":false},"axis":null},"y":{"datum":205000,"scale":{"domain":[0,217500],"nice":false},"axis":null},"text":{"value":"■"}}},
{"data":{"values":[{}]},"mark":{"type":"text","align":"left","fontSize":5,"color":"#444"},"encoding":{"x":{"datum":4.0,"scale":{"domain":[-0.5,155.5],"nice":false,"zero":false},"axis":null},"y":{"datum":205000,"scale":{"domain":[0,217500],"nice":false},"axis":null},"text":{"value":"Volume 108,365"}}}
]
},
{
"width":291,"height":44,
"view":{"fill":"#f2d9b0","stroke":"#a8a090"},
"layer":[
{"data":{"name":"ind"},"mark":{"type":"area","color":"#86c06a","opacity":0.9},"encoding":{
"x":{"field":"i","type":"quantitative","scale":{"domain":[-0.5,155.5],"nice":false,"zero":false},"axis":{"values":[-0.5,5.5,17.5,29.5,41.5,53.5,65.5,77.5,95.5,107.5,119.5,131.5,143.5],"labelExpr":"(datum.value+0.5)%78==0 ? (datum.value<1 ? '8Feb' : '11Feb') : ((8.5+((datum.value+0.5)%78)/12)%12+1)+':00'","labelAlign":{"condition":{"test":"datum.value==77.5","value":"center"},"value":"left"},"labelFontWeight":{"condition":{"test":"(datum.value+0.5)%78==0","value":"bold"},"value":"normal"},"labelFontSize":5.5,"labelColor":"#222","labelPadding":1,"ticks":false,"domain":false,"grid":true,"gridColor":"#6b5b40","gridOpacity":0.15,"gridWidth":0.6,"title":null}},
"y":{"field":"hg","type":"quantitative","scale":{"domain":[-0.385,1.02],"nice":false,"zero":false},"axis":{"orient":"right","values":[-0.25,0,0.25,0.5,0.75],"format":".2f","labelFontSize":5.5,"labelColor":"#222","tickSize":2,"tickColor":"#888","labelPadding":1,"domain":false,"grid":true,"gridColor":"#6b5b40","gridOpacity":0.12,"title":null}},
"y2":{"datum":0}}},
{"data":{"name":"ind"},"mark":{"type":"line","color":"#8668e0","strokeWidth":0.9},"encoding":{
"x":{"field":"i","type":"quantitative","scale":{"domain":[-0.5,155.5],"nice":false,"zero":false},"axis":null},
"y":{"field":"s","type":"quantitative","scale":{"domain":[-0.385,1.02],"nice":false,"zero":false},"axis":null}}},
{"data":{"name":"ind"},"mark":{"type":"line","color":"#222","strokeWidth":0.9},"encoding":{
"x":{"field":"i","type":"quantitative","scale":{"domain":[-0.5,155.5],"nice":false,"zero":false},"axis":null},
"y":{"field":"m","type":"quantitative","scale":{"domain":[-0.385,1.02],"nice":false,"zero":false},"axis":null}}},
{"data":{"values":[{}]},"mark":{"type":"text","align":"left","fontSize":4.6,"fontWeight":"bold","color":"#333"},"encoding":{"x":{"datum":0.2,"scale":{"domain":[-0.5,155.5],"nice":false,"zero":false},"axis":null},"y":{"datum":0.9,"scale":{"domain":[-0.385,1.02],"nice":false,"zero":false},"axis":null},"text":{"value":"—"}}},
{"data":{"values":[{}]},"mark":{"type":"text","align":"left","fontSize":4.6,"color":"#333"},"encoding":{"x":{"datum":2.8,"scale":{"domain":[-0.5,155.5],"nice":false,"zero":false},"axis":null},"y":{"datum":0.9,"scale":{"domain":[-0.385,1.02],"nice":false,"zero":false},"axis":null},"text":{"value":"MACD(12,26,9) 0.395,"}}},
{"data":{"values":[{}]},"mark":{"type":"text","align":"left","fontSize":4.6,"color":"#8668e0"},"encoding":{"x":{"datum":29.0,"scale":{"domain":[-0.5,155.5],"nice":false,"zero":false},"axis":null},"y":{"datum":0.9,"scale":{"domain":[-0.385,1.02],"nice":false,"zero":false},"axis":null},"text":{"value":"0.340,"}}},
{"data":{"values":[{}]},"mark":{"type":"text","align":"left","fontSize":4.6,"color":"#6cae4c"},"encoding":{"x":{"datum":36.0,"scale":{"domain":[-0.5,155.5],"nice":false,"zero":false},"axis":null},"y":{"datum":0.9,"scale":{"domain":[-0.385,1.02],"nice":false,"zero":false},"axis":null},"text":{"value":"0.054"}}}
]
}
]
}
